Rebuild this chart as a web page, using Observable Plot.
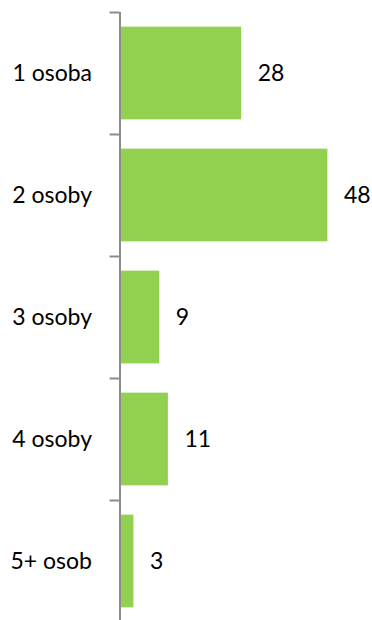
<!DOCTYPE html>
<html>
<head>
<meta charset="utf-8">
<script src="https://cdn.jsdelivr.net/npm/d3@7"></script>
<script src="https://cdn.jsdelivr.net/npm/@observablehq/plot@0.6"></script>
<style>
  html, body { margin: 0; padding: 0; background: #fff; }
  #chart svg { display: block; }
</style>
</head>
<body>
<div id="chart"></div>
<script>
// Household size categories and their counts
const categories = ["1 osoba", "2 osoby", "3 osoby", "4 osoby", "5+ osob"];
const values = [28, 48, 9, 11, 3];

const rows = categories.map((c, i) => ({category: c, value: values[i], i}));
const boundaries = d3.range(categories.length + 1);

const axisColor = "#8c8c8c";
const font = "Lato, 'Open Sans', sans-serif";

const chart = Plot.plot({
  width: 372,
  height: 620,
  margin: 0,
  style: {fontFamily: font, background: "#fff"},
  x: {type: "linear", domain: [0, 50], range: [120.5, 336], axis: null},
  y: {type: "linear", domain: [0, categories.length], range: [12, 622], axis: null},
  marks: [
    // bars
    Plot.rect(rows, {
      x1: 0, x2: "value",
      y1: d => d.i + 0.12, y2: d => d.i + 0.88,
      fill: "#92d050"
    }),
    // vertical category axis line
    Plot.ruleX([0], {y1: 0, y2: categories.length, stroke: axisColor, strokeWidth: 2, dx: -1}),
    // tick marks between categories
    Plot.ruleY(boundaries, {x1: -2.3, x2: 0, stroke: axisColor, strokeWidth: 2, dx: -1}),
    // category labels
    Plot.text(rows, {
      x: 0, y: d => d.i + 0.5, text: "category",
      textAnchor: "end", dx: -29, fontSize: 23, fill: "#000"
    }),
    // value labels
    Plot.text(rows, {
      x: "value", y: d => d.i + 0.5, text: d => String(d.value),
      textAnchor: "start", dx: 16, fontSize: 23, fill: "#000"
    })
  ]
});

document.getElementById("chart").appendChild(chart);
</script>
</body>
</html>
